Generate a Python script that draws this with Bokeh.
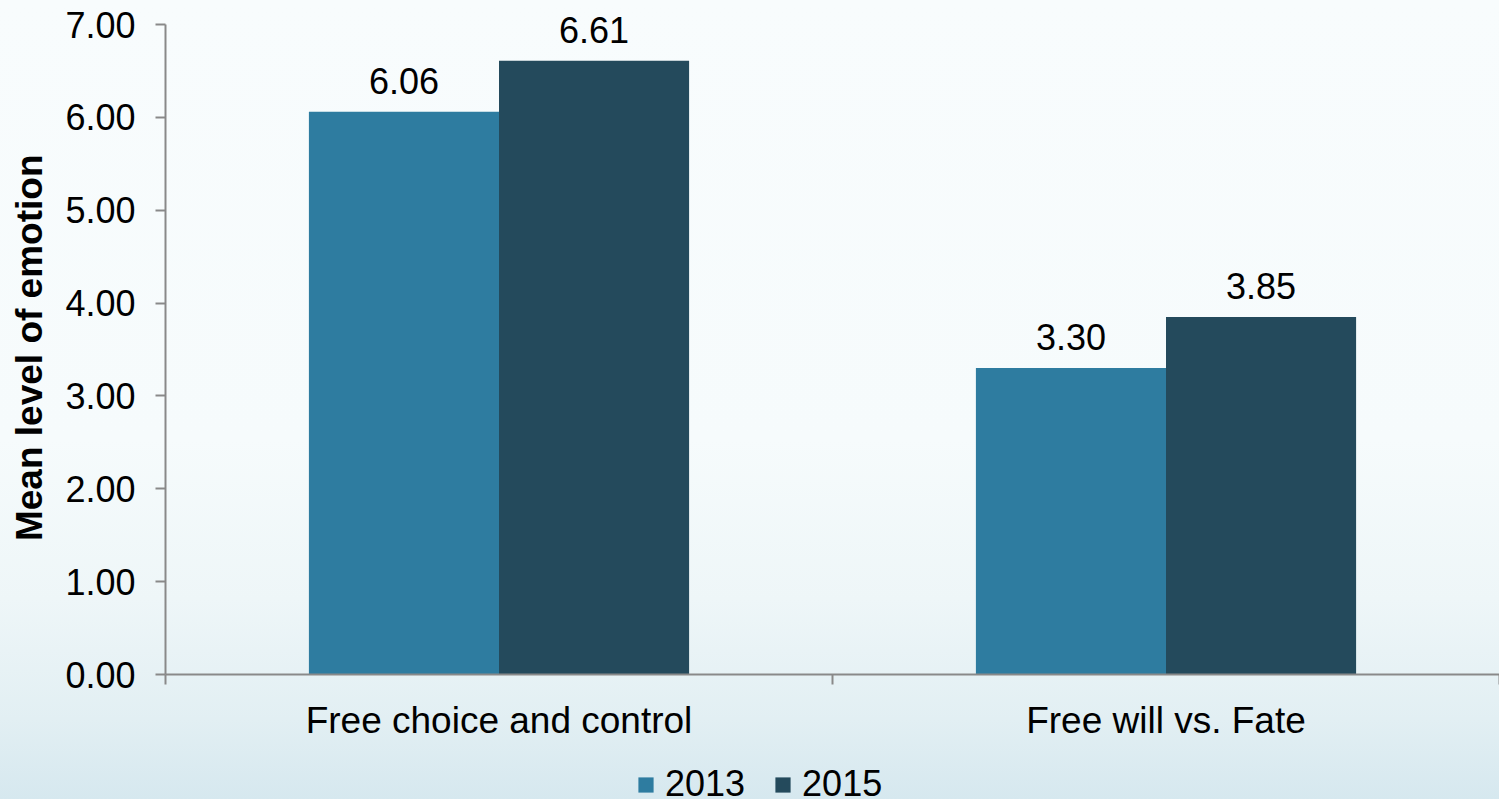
from bokeh.plotting import figure
from bokeh.layouts import column
from bokeh.models import (ColumnDataSource, Range1d, FixedTicker, NumeralTickFormatter,
                          LabelSet, Legend, LegendItem)
from bokeh.core.properties import value
from bokeh.transform import dodge
from bokeh.embed import file_html
from bokeh.resources import INLINE

categories = ["Free choice and control", "Free will vs. Fate"]
years = ["2013", "2015"]
values_2013 = [6.06, 3.30]
values_2015 = [6.61, 3.85]
y_ticks = [0, 1, 2, 3, 4, 5, 6, 7]
colors = ["#2E7CA0", "#244A5C"]
y_title = "Mean level of emotion"

FONT = "Liberation Sans"
centers = [i + 0.5 for i in range(len(categories))]
bounds = list(range(len(categories) + 1))

src = ColumnDataSource(dict(
    x=centers,
    v2013=values_2013,
    v2015=values_2015,
    l2013=[f"{v:.2f}" for v in values_2013],
    l2015=[f"{v:.2f}" for v in values_2015],
))

y_max = max(y_ticks)
# frame reaches the top of the canvas so value labels are not clipped
y_top = y_max + 24 / (650 / y_max)

MAIN_H = 760
p = figure(width=1499, height=MAIN_H, output_backend="svg", toolbar_location=None,
           x_range=Range1d(0, len(categories)), y_range=Range1d(0, y_top),
           min_border_left=165, min_border_right=0, min_border_top=0,
           min_border_bottom=MAIN_H - 674)
p.background_fill_color = None
p.border_fill_color = None
p.outline_line_color = None
p.xgrid.visible = False
p.ygrid.visible = False

bw = 0.285
p.vbar(x=dodge("x", -bw / 2, range=p.x_range), top="v2013", width=bw, source=src,
       fill_color=colors[0], line_color=None)
p.vbar(x=dodge("x", bw / 2, range=p.x_range), top="v2015", width=bw, source=src,
       fill_color=colors[1], line_color=None)

for field, off in (("2013", -bw / 2), ("2015", bw / 2)):
    p.add_layout(LabelSet(x=dodge("x", off, range=p.x_range), y="v" + field, text="l" + field,
                          source=src, text_align="center", text_baseline="alphabetic",
                          y_offset=18, text_font=value(FONT), text_font_size="36px",
                          text_color="black"))

axis_gray = "#898989"
# x axis
xa = p.xaxis[0]
xa.ticker = FixedTicker(ticks=centers, minor_ticks=bounds)
xa.major_label_overrides = {c: n for c, n in zip(centers, categories)}
xa.major_tick_line_color = None
xa.major_tick_out = 0
xa.major_tick_in = 0
xa.minor_tick_line_color = axis_gray
xa.minor_tick_line_width = 2
xa.minor_tick_out = 10
xa.minor_tick_in = 0
xa.axis_line_color = axis_gray
xa.axis_line_width = 2
xa.major_label_text_font = FONT
xa.major_label_text_font_size = "37px"
xa.major_label_text_color = "black"
xa.major_label_standoff = 15

# y axis
ya = p.yaxis[0]
ya.bounds = (0, y_max)
ya.ticker = FixedTicker(ticks=y_ticks)
ya.formatter = NumeralTickFormatter(format="0.00")
ya.axis_line_color = axis_gray
ya.axis_line_width = 2
ya.major_tick_line_color = axis_gray
ya.major_tick_line_width = 2
ya.major_tick_out = 10
ya.major_tick_in = 0
ya.minor_tick_line_color = None
ya.major_label_text_font = FONT
ya.major_label_text_font_size = "36px"
ya.major_label_text_color = "black"
ya.major_label_standoff = 20
# trailing no-break spaces centre the title on the 0-7 axis span
ya.axis_label = y_title + "\u00a0\u00a0"
ya.axis_label_text_font = FONT
ya.axis_label_text_font_style = "bold"
ya.axis_label_text_font_size = "37px"
ya.axis_label_text_color = "black"
ya.axis_label_standoff = 12

# legend strip below the chart (its frame is aligned with the chart's frame)
LEG_H = 799 - MAIN_H
lf = figure(width=1499, height=LEG_H, output_backend="svg", toolbar_location=None,
            x_range=Range1d(0, len(categories)), y_range=Range1d(-2, -1),
            x_axis_type=None, y_axis_type=None, min_border=0)
lf.background_fill_color = None
lf.border_fill_color = None
lf.outline_line_color = None
lf.xgrid.visible = False
lf.ygrid.visible = False
# zero-width copies of the bars, outside this strip's y range: only their legend swatches show
lr = [lf.vbar(x="x", top="v" + yr, width=0, source=src, fill_color=c, line_color=None)
      for yr, c in zip(years, colors)]

legend = Legend(items=[LegendItem(label=yr, renderers=[r]) for yr, r in zip(years, lr)],
                orientation="horizontal", location=(471, -6),
                glyph_width=19, glyph_height=19, label_standoff=10, spacing=28,
                padding=0, margin=0, border_line_color=None, background_fill_color=None,
                background_fill_alpha=0,
                label_text_font=FONT, label_text_font_size="36px", label_text_color="black")
lf.add_layout(legend, "center")

layout = column(p, lf, spacing=0)
layout.styles = {"background": "linear-gradient(to bottom, #F8FCFD 0%, #F6FBFC 55%, #EEF6F8 75%, #E2EFF3 90%, #D6E8EF 100%)"}

open("out.html", "w").write(file_html(layout, INLINE))
